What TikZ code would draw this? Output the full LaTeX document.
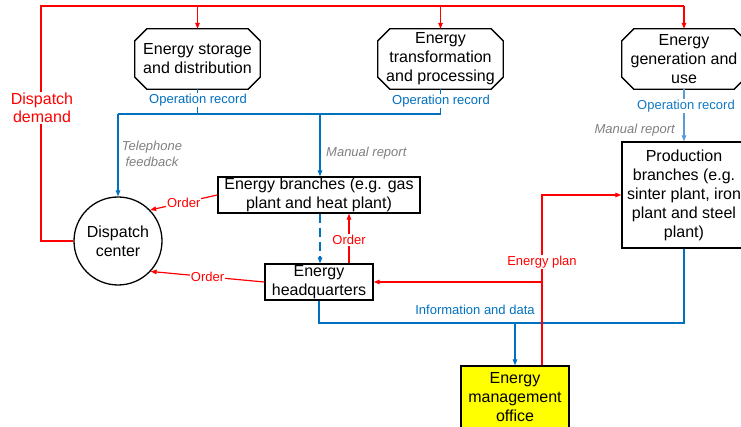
\documentclass[tikz,border=0pt]{standalone}
\usepackage{fontspec}
\setmainfont{Liberation Sans}
\usetikzlibrary{arrows.meta,calc}
\definecolor{cblue}{RGB}{0,112,192}
\definecolor{lblue}{RGB}{91,155,213}
\definecolor{cgray}{RGB}{128,128,128}
\definecolor{cred}{RGB}{255,0,0}
\definecolor{cyel}{RGB}{255,255,0}
\begin{document}
\begin{tikzpicture}[x=1pt,y=-1pt,
  boxtext/.style={font=\fontsize{16pt}{19pt}\selectfont,align=center,inner sep=0pt},
  rectbox/.style={boxtext,draw=black,line width=1.3pt},
  octline/.style={draw=black,line width=1.3pt},
  redline/.style={draw=cred,line width=1.2pt},
  blueline/.style={draw=cblue,line width=1.2pt},
  lblueline/.style={draw=lblue,line width=1.2pt},
  tip/.style={-{Triangle[length=6pt,width=4.5pt]}},
  lbl/.style={font=\fontsize{13pt}{15pt}\selectfont,inner sep=1pt},
  redlbl/.style={lbl,text=cred,fill=white},
  bluelbl/.style={lbl,text=cblue,fill=white},
  graylbl/.style={lbl,text=cgray,font=\fontsize{13pt}{16pt}\selectfont\itshape,align=center}
]
\useasboundingbox (0,0) rectangle (741,427);
\newcommand{\octoshape}[1]{%
  \draw[octline] ([xshift=12pt]#1.north west) -- ([xshift=-12pt]#1.north east)
    -- ([yshift=-12pt]#1.north east) -- ([yshift=12pt]#1.south east)
    -- ([xshift=-12pt]#1.south east) -- ([xshift=12pt]#1.south west)
    -- ([yshift=12pt]#1.south west) -- ([yshift=-12pt]#1.north west) -- cycle;}

% nodes
\node[boxtext,minimum width=125pt,minimum height=60pt] (s1) at (197.5,59) {Energy storage\\and distribution};
\node[boxtext,minimum width=125pt,minimum height=60pt] (s2) at (440.5,59) {Energy\\transformation\\and processing};
\node[boxtext,minimum width=124pt,minimum height=60pt] (s3) at (684,59) {Energy\\generation and\\use};
\octoshape{s1}\octoshape{s2}\octoshape{s3}

\node[boxtext,draw=black,line width=1.3pt,circle,minimum size=88pt] (dc) at (118,241) {Dispatch\\center};
\node[rectbox,minimum width=202pt,minimum height=36pt] (eb) at (319,195) {Energy branches (e.g. gas\\plant and heat plant)};
\node[rectbox,minimum width=108pt,minimum height=36pt] (hq) at (319,282) {Energy\\headquarters};
\node[rectbox,minimum width=124pt,minimum height=106pt] (pb) at (684,195) {Production\\branches (e.g.\\sinter plant, iron\\plant and steel\\plant)};
\node[rectbox,fill=cyel,minimum width=108pt,minimum height=62pt] (emo) at (515,397) {Energy\\management\\office};

% coordinates
\coordinate (top) at (0,6);
\coordinate (bl) at (0,114);
\coordinate (dl) at (41,241);
\coordinate (info) at (0,323);
\coordinate (ep) at ([xshift=27pt]emo.north);
\coordinate (ordq) at ([xshift=30pt]hq.north);
\coordinate (mr) at ([xshift=1pt]eb.north);

% blue operation records
\draw[blueline] (s1.south) -- (s1.south |- bl);
\draw[blueline] (s2.south) -- (s2.south |- bl);
\draw[blueline] (dc.north |- bl) -- (s2.south |- bl);
\node[bluelbl] at (198,100) {Operation record};
\node[bluelbl] at (441,101) {Operation record};
\draw[blueline,tip] (dc.north |- bl) -- (dc.north);
\draw[blueline,tip] (mr |- bl) -- (mr);
\node[graylbl] at (152,154) {Telephone\\feedback};
\node[graylbl,anchor=west] at (325,153) {Manual report};

\draw[lblueline,tip] (s3.south) -- (pb.north);
\node[lbl,text=cblue!80!lblue,fill=white] at (686,106) {Operation record};
\node[graylbl,anchor=east] at (676,130) {Manual report};

% dashed blue
\draw[blueline,dashed,dash pattern=on 9pt off 5pt,tip] (mr |- eb.south) -- (mr |- hq.north);

% information and data
\draw[blueline] (hq.south) -- (hq.south |- info) -- (pb.south |- info) -- (pb.south);
\draw[blueline,tip] (emo.north |- info) -- (emo.north);
\node[lbl,text=cblue] at (475,310) {Information and data};

% dispatch demand
\draw[redline] (dc.west) -- (dl) -- (dl |- top) -- (s3.north |- top);
\draw[redline,tip] (s1.north |- top) -- (s1.north);
\draw[redline,tip] (s2.north |- top) -- (s2.north);
\draw[redline,tip] (s3.north |- top) -- (s3.north);
\node[redlbl,font=\fontsize{16pt}{18pt}\selectfont,align=center] at (42,108) {Dispatch\\demand};

% orders
\draw[redline,tip] (eb.west) -- node[redlbl] {Order} (dc.44);
\draw[redline,tip] (hq.west) -- node[redlbl] {Order} (dc.-43);
\draw[redline,tip] (ordq) -- node[redlbl,pos=0.47] {Order} (ordq |- eb.south);

% energy plan
\draw[redline,tip] (ep) -- (ep |- pb.west) -- (pb.west);
\draw[redline,tip] (ep |- hq.east) -- (hq.east);
\node[redlbl] at (542,262) {Energy plan};
\end{tikzpicture}
\end{document}
